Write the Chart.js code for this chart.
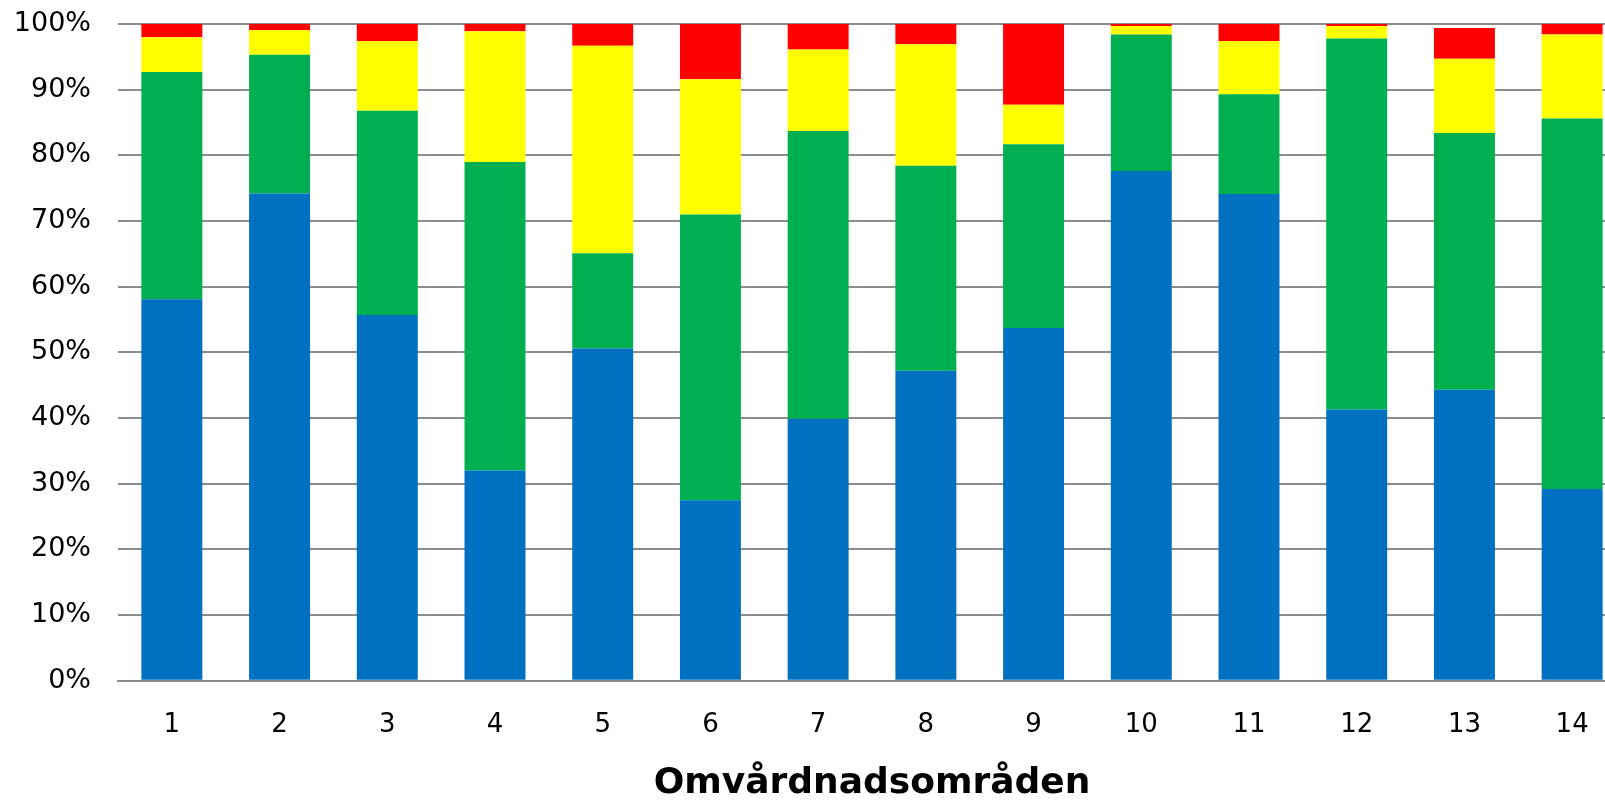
<!DOCTYPE html>
<html>
<head>
<meta charset="utf-8">
<script src="https://cdn.jsdelivr.net/npm/chart.js@4"></script>
<style>
  html, body { margin: 0; padding: 0; overflow: hidden; background: #fff; }
  #wrap { position: relative; width: 1626px; height: 802px; }
</style>
</head>
<body>
<div id="wrap"><canvas id="c"></canvas></div>
<script>
const categories = ['1','2','3','4','5','6','7','8','9','10','11','12','13','14'];
const blueValues   = [58.1, 74.2, 55.7, 32.0, 50.6, 27.5, 39.9, 47.2, 53.7, 77.6, 74.1, 41.3, 44.3, 29.2];
const greenValues  = [34.6, 21.1, 31.1, 47.0, 14.5, 43.5, 43.8, 31.2, 28.0, 20.8, 15.2, 56.5, 39.1, 56.4];
const yellowValues = [ 5.3,  3.8, 10.6, 19.9, 31.6, 20.6, 12.4, 18.5,  6.0,  1.3,  8.1,  1.9, 11.3, 12.8];
const redValues    = [ 2.0,  0.9,  2.6,  1.1,  3.3,  8.4,  3.9,  3.1, 12.3,  0.3,  2.6,  0.3,  4.7,  1.6];
const yTicks = [0,10,20,30,40,50,60,70,80,90,100];
const xTitle = 'Omvårdnadsområden';

const FONT = "'DejaVu Sans', Verdana, sans-serif";

new Chart(document.getElementById('c'), {
  type: 'bar',
  data: {
    labels: categories,
    datasets: [
      { label: 'Blå', data: blueValues, backgroundColor: '#0070C0' },
      { label: 'Grön', data: greenValues, backgroundColor: '#00B050' },
      { label: 'Gul', data: yellowValues, backgroundColor: '#FFFF00' },
      { label: 'Röd', data: redValues, backgroundColor: '#FF0000' }
    ]
  },
  options: {
    responsive: true,
    maintainAspectRatio: false,
    animation: false,
    layout: { padding: { top: 24, right: 0, left: 0, bottom: 0 } },
    datasets: { bar: { categoryPercentage: 1.0, barPercentage: 0.566, borderWidth: 0 } },
    plugins: { legend: { display: false }, tooltip: { enabled: false } },
    scales: {
      x: {
        stacked: true,
        grid: { display: false, drawTicks: false },
        border: { display: true, color: '#8c8c8c', width: 2 },
        ticks: { color: '#000', font: { family: FONT, size: 26 }, padding: 29, maxRotation: 0 },
        title: { display: true, text: xTitle, color: '#000', font: { family: FONT, size: 36, weight: 'bold', lineHeight: 1.0 }, padding: { top: -4, bottom: 0 } }
      },
      y: {
        stacked: true,
        min: 0, max: 100,
        afterBuildTicks: (s) => { s.ticks = yTicks.map(v => ({ value: v })); },
        afterFit: (s) => { s.width = 118; s.paddingTop = 0; s.paddingBottom = 0; },
        grid: { color: '#8c8c8c', lineWidth: 2, drawTicks: false },
        border: { display: false },
        ticks: { color: '#000', font: { family: FONT, size: 27 }, padding: 27, callback: (v) => v + '%' }
      }
    }
  }
});
</script>
</body>
</html>
